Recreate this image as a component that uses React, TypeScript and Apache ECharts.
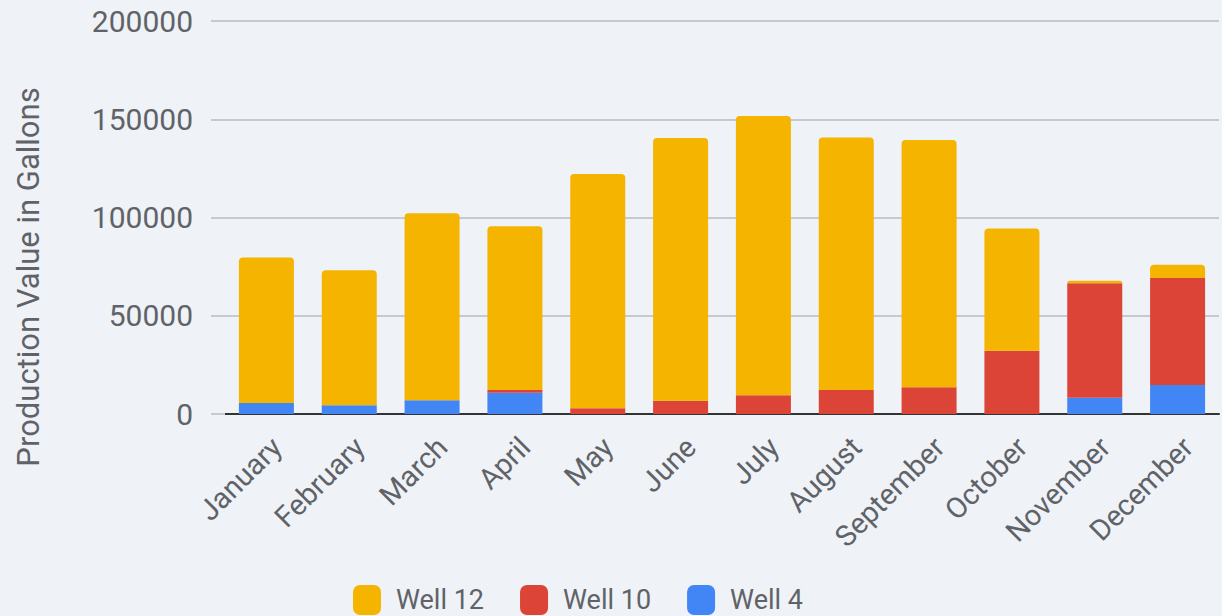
import React, { useEffect, useRef } from "react";
import * as echarts from "echarts";

const months = ["January", "February", "March", "April", "May", "June", "July", "August", "September", "October", "November", "December"];
const well12 = [74100, 68700, 95200, 83400, 119200, 133700, 142100, 128500, 125800, 62200, 1200, 6700];
const well10 = [0, 0, 0, 1400, 2900, 6800, 9500, 12200, 13600, 32200, 58300, 54500];
const well4 = [5600, 4400, 7000, 10800, 0, 0, 0, 0, 0, 0, 8300, 14700];
const yTicks = { min: 0, max: 200000, interval: 50000 };

const FONT = "Roboto, 'Noto Sans', sans-serif";
const TEXT = "#5f6368";

export default function App() {
  const ref = useRef<HTMLDivElement>(null);
  useEffect(() => {
    document.body.style.margin = "0";
    const chart = echarts.init(ref.current!, undefined, { renderer: "svg" });
    chart.setOption({
      animation: false,
      backgroundColor: "#eff2f7",
      textStyle: { fontFamily: FONT },
      grid: { left: 225, right: 3, top: 21, bottom: 202, containLabel: false },
      legend: {
        left: 348,
        top: 580,
        itemWidth: 28,
        itemHeight: 30,
        itemGap: 36,
        icon: "roundRect",
        textStyle: { fontSize: 27, color: TEXT, fontFamily: FONT, padding: [0, 0, 0, 10] },
        data: ["Well 12", "Well 10", "Well 4"],
      },
      graphic: [
        {
          type: "text",
          x: 28,
          y: 277,
          rotation: Math.PI / 2,
          style: {
            text: "Production Value in Gallons",
            fill: TEXT,
            font: `31px ${FONT}`,
            align: "center",
            verticalAlign: "middle",
          },
        },
      ],
      xAxis: {
        type: "category",
        data: months,
        axisLine: { show: true, lineStyle: { color: "#333", width: 2 } },
        axisTick: { show: false },
        axisLabel: {
          rotate: 45,
          fontSize: 29,
          color: TEXT,
          margin: 18,
          fontFamily: FONT,
          verticalAlign: "top",
        },
      },
      yAxis: {
        type: "value",
        min: yTicks.min,
        max: yTicks.max,
        interval: yTicks.interval,
        axisLine: { show: false },
        axisTick: { show: true, length: 14, lineStyle: { color: "#c6c9ce", width: 2 } },
        splitLine: { lineStyle: { color: "#c6c9ce", width: 2 } },
        axisLabel: { fontSize: 30, color: TEXT, margin: 32, fontFamily: FONT, formatter: (v: number) => String(v) },
      },
      series: [
        {
          name: "Well 4",
          type: "bar",
          stack: "total",
          data: well4,
          barWidth: 55,
          itemStyle: { color: "#4285f4" },
        },
        {
          name: "Well 10",
          type: "bar",
          stack: "total",
          data: well10,
          itemStyle: { color: "#db4437" },
        },
        {
          name: "Well 12",
          type: "bar",
          stack: "total",
          data: well12,
          itemStyle: { color: "#f4b400", borderRadius: [4, 4, 0, 0] },
        },
      ],
    });
    return () => chart.dispose();
  }, []);
  return <div ref={ref} style={{ width: 1222, height: 616 }} />;
}
